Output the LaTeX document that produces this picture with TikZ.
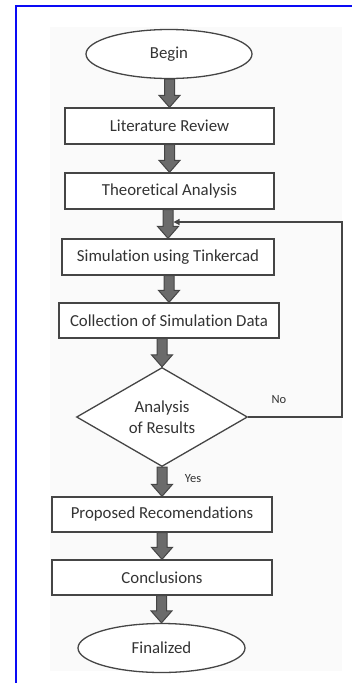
\documentclass[tikz,border=0pt]{standalone}
\usepackage{fontspec}
\setmainfont{Carlito}[Ligatures=NoCommon]
\usetikzlibrary{shapes.geometric,arrows.meta,calc}
\definecolor{frameblue}{HTML}{0A0AF5}
\definecolor{edge}{HTML}{454545}
\definecolor{ink}{HTML}{333333}
\definecolor{shaft}{HTML}{6B6B6B}
\definecolor{paper}{HTML}{FAFAFA}
\newcommand{\flowarrow}[2]{%
	\draw[flow] ($(#2.north |- #1.south)+(-5,0)$) -- ($(#2.north)+(-5,-12)$) -- ($(#2.north)+(-10.5,-12)$) -- (#2.north)
		-- ($(#2.north)+(10.5,-12)$) -- ($(#2.north)+(5,-12)$) -- ($(#2.north |- #1.south)+(5,0)$) -- cycle;}
\begin{document}
\begin{tikzpicture}[x=1pt,y=-1pt,
		stage/.style={draw=edge, line width=1.3pt, fill=white, rectangle, inner sep=0pt, minimum height=36pt, text=ink, font=\fontsize{16.8}{20}\selectfont},
		terminal/.style={stage, ellipse, minimum width=166pt, minimum height=49pt},
		decision/.style={stage, diamond, aspect=1.7, minimum width=171pt, minimum height=99pt, align=center, font=\fontsize{16.8}{21}\selectfont},
		flow/.style={draw=edge, fill=shaft, line width=1pt, line join=miter},
		answer/.style={text=ink, font=\fontsize{12.5}{14}\selectfont, inner sep=0pt}]
	\useasboundingbox (0,0) rectangle (352,683);
	\fill[white] (0,0) rectangle (352,683);
	\fill[paper] (50,27) rectangle (342,671);
	\draw[frameblue, line width=2pt] (16,683) -- (16,5.5) -- (352,5.5);
	\node[terminal] (begin) at (169,54) {Begin};
	\node[stage, minimum width=209pt] (review) at (169.5,126) {Literature Review};
	\node[stage, minimum width=209pt] (theory) at (169.5,191) {Theoretical Analysis};
	\node[stage, minimum width=212pt] (sim) at (168,257) {Simulation using Tinkercad};
	\node[stage, minimum width=220pt, minimum height=35pt] (data) at (169,320.5) {Collection of Simulation Data};
	\node[decision] (check) at (162,417) {Analysis\\of Results};
	\node[stage, minimum width=220pt, minimum height=35pt] (advice) at (162,514.5) {Proposed Recomendations};
	\node[stage, minimum width=220pt, minimum height=35pt] (summary) at (162,577.5) {Conclusions};
	\node[terminal, minimum width=167pt, minimum height=49pt] (final) at (161.5,648) {Finalized};
	\flowarrow{begin}{review}
	\flowarrow{review}{theory}
	\flowarrow{theory}{sim}
	\flowarrow{sim}{data}
	\flowarrow{data}{check}
	\flowarrow{check}{advice}
	\flowarrow{advice}{summary}
	\flowarrow{summary}{final}
	\coordinate (corner) at (342,417);
	\coordinate (back) at (173.5,222);
	\draw[edge, line width=1.2pt, -{Triangle[length=6pt,width=6pt]}] (check.east) -- (corner) |- (back);
	\node[answer] (no) at (279,400) {No};
	\node[answer] (yes) at (193,479) {Yes};
\end{tikzpicture}
\end{document}
